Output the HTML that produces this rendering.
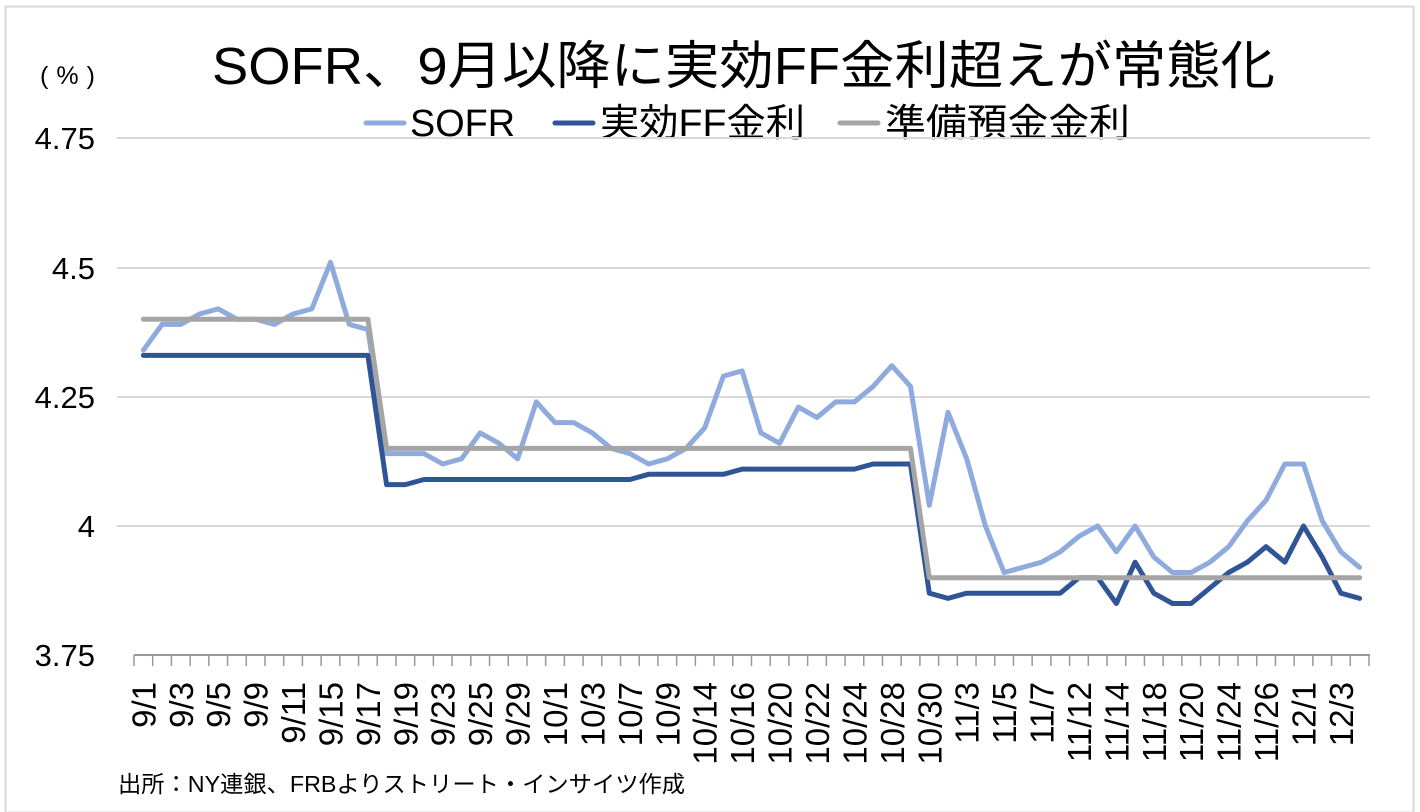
<!DOCTYPE html>
<html><head><meta charset="utf-8"><style>
html,body{margin:0;padding:0;background:#fff;}
svg{display:block;font-family:"Liberation Sans","Noto Sans CJK JP",sans-serif;}
</style></head><body>
<svg id="c" width="1420" height="812" xmlns="http://www.w3.org/2000/svg">
<rect x="5.5" y="6.5" width="1408" height="806" fill="#fff" stroke="#d9d9d9" stroke-width="2"/>
<text x="212" y="84" font-size="52" textLength="1063" lengthAdjust="spacingAndGlyphs" fill="#000">SOFR、9月以降に実効FF金利超えが常態化</text>
<text x="40" y="84" font-size="25" textLength="55" lengthAdjust="spacing" fill="#000">(%)</text>
<g font-size="38" fill="#000">
<line x1="366" y1="123" x2="404" y2="123" stroke="#8faadc" stroke-width="5" stroke-linecap="round"/>
<text x="410" y="136" textLength="105" lengthAdjust="spacingAndGlyphs">SOFR</text>
<line x1="555" y1="123" x2="593" y2="123" stroke="#2f5597" stroke-width="5" stroke-linecap="round"/>
<text x="600" y="136" textLength="205" lengthAdjust="spacingAndGlyphs">実効FF金利</text>
<line x1="840" y1="123" x2="878" y2="123" stroke="#a5a5a5" stroke-width="5" stroke-linecap="round"/>
<text x="885" y="136" textLength="245" lengthAdjust="spacingAndGlyphs">準備預金金利</text>
</g>
<g stroke="#d9d9d9" stroke-width="2">
<line x1="117" y1="138" x2="1370" y2="138"/>
<line x1="117" y1="268" x2="1370" y2="268"/>
<line x1="117" y1="397" x2="1370" y2="397"/>
<line x1="117" y1="526" x2="1370" y2="526"/>
</g>
<g font-size="31" fill="#000" text-anchor="end">
<text x="95" y="149">4.75</text>
<text x="95" y="279">4.5</text>
<text x="95" y="408">4.25</text>
<text x="95" y="537">4</text>
<text x="95" y="666">3.75</text>
</g>
<g id="ax"></g>
<g id="lines"></g>
<text x="118" y="792" font-size="23" textLength="567" lengthAdjust="spacingAndGlyphs" fill="#000">出所：NY連銀、FRBよりストリート・インサイツ作成</text>
</svg>
<script>
var NS="http://www.w3.org/2000/svg";
var sofr=[4.34,4.39,4.39,4.41,4.42,4.40,4.40,4.39,4.41,4.42,4.51,4.39,4.38,4.14,4.14,4.14,4.12,4.13,4.18,4.16,4.13,4.24,4.20,4.20,4.18,4.15,4.14,4.12,4.13,4.15,4.19,4.29,4.30,4.18,4.16,4.23,4.21,4.24,4.24,4.27,4.31,4.27,4.04,4.22,4.13,4.00,3.91,3.92,3.93,3.95,3.98,4.00,3.95,4.00,3.94,3.91,3.91,3.93,3.96,4.01,4.05,4.12,4.12,4.01,3.95,3.92];
var effr=[];
for(var i=0;i<66;i++){var v;
if(i<13)v=4.33;else if(i<15)v=4.08;else if(i<27)v=4.09;else if(i<32)v=4.10;else if(i<39)v=4.11;else if(i<42)v=4.12;else v=null;effr.push(v);}
var tail=[3.87,3.86,3.87,3.87,3.87,3.87,3.87,3.87,3.90,3.90,3.85,3.93,3.87,3.85,3.85,3.88,3.91,3.93,3.96,3.93,4.00,3.94,3.87,3.86];
for(var j=0;j<24;j++)effr[42+j]=tail[j];
var iorb=[];for(var i=0;i<66;i++)iorb.push(i<13?4.40:(i<42?4.15:3.90));
function X(i){return 134+18.712*(i+0.5);}
function Y(v){return 526-(v-4)*517;}
function poly(d,c){var p=d.map(function(v,i){return X(i).toFixed(1)+","+Y(v).toFixed(1)}).join(" ");
var e=document.createElementNS(NS,"polyline");e.setAttribute("points",p);e.setAttribute("fill","none");e.setAttribute("stroke",c);e.setAttribute("stroke-width","5");e.setAttribute("stroke-linejoin","round");e.setAttribute("stroke-linecap","round");document.getElementById("lines").appendChild(e);}
poly(sofr,"#8faadc");poly(effr,"#2f5597");poly(iorb,"#a5a5a5");
var ax=document.getElementById("ax");
var l=document.createElementNS(NS,"line");l.setAttribute("x1",134);l.setAttribute("x2",1370);l.setAttribute("y1",655);l.setAttribute("y2",655);l.setAttribute("stroke","#999");l.setAttribute("stroke-width","2");ax.appendChild(l);
for(var k=0;k<=66;k++){var x=134+18.712*k;var t=document.createElementNS(NS,"line");t.setAttribute("x1",x);t.setAttribute("x2",x);t.setAttribute("y1",655);t.setAttribute("y2",666);t.setAttribute("stroke","#999");t.setAttribute("stroke-width","1.5");ax.appendChild(t);}
var labs=["9/1","9/3","9/5","9/9","9/11","9/15","9/17","9/19","9/23","9/25","9/29","10/1","10/3","10/7","10/9","10/14","10/16","10/20","10/22","10/24","10/28","10/30","11/3","11/5","11/7","11/12","11/14","11/18","11/20","11/24","11/26","12/1","12/3"];
labs.forEach(function(s,k){var x=X(2*k)+12;var t=document.createElementNS(NS,"text");t.setAttribute("transform","translate("+x.toFixed(1)+",682) rotate(-90)");t.setAttribute("text-anchor","end");t.setAttribute("font-size","33");t.textContent=s;ax.appendChild(t);});
</script>
</body></html>
